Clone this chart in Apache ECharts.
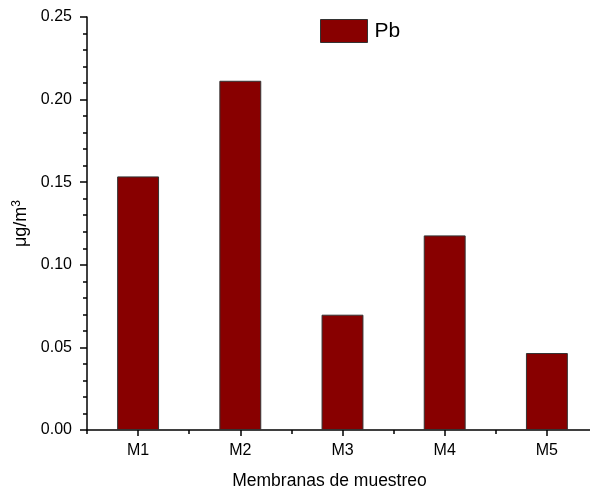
<!DOCTYPE html>
<html>
<head>
<meta charset="utf-8">
<script src="https://cdn.jsdelivr.net/npm/echarts@6/dist/echarts.min.js"></script>
<style>html,body{margin:0;padding:0;background:#fff}#c{width:590px;height:493px}</style>
</head>
<body>
<div id="c"></div>
<script>
const categories = ['M1', 'M2', 'M3', 'M4', 'M5'];
const pbValues = [0.1535, 0.2114, 0.0698, 0.1178, 0.0466];
const seriesName = 'Pb';
const xTitle = 'Membranas de muestreo';

const FONT = '"Liberation Sans", Arial, sans-serif';
const chart = echarts.init(document.getElementById('c'), null, {renderer: 'canvas'});
chart.setOption({
  animation: false,
  backgroundColor: '#ffffff',
  textStyle: {fontFamily: FONT},
  grid: {left: 87, top: 17, height: 413, width: 511, containLabel: false, outerBoundsMode: 'none'},
  legend: {
    data: [seriesName],
    left: 315, top: 14,
    icon: 'rect',
    itemWidth: 47, itemHeight: 23, itemGap: 6,
    itemStyle: {borderColor: '#333', borderWidth: 1},
    textStyle: {fontSize: 21, color: '#000', fontFamily: FONT, padding: [0, 0, 0, 2]}
  },
  xAxis: [{
    type: 'category',
    data: categories,
    position: 'bottom',
    name: xTitle,
    nameLocation: 'middle',
    nameGap: 42,
    nameTextStyle: {fontSize: 17.5, color: '#000', fontFamily: FONT, padding: [0, 26, 0, 0]},
    axisLine: {lineStyle: {color: '#000', width: 1.5}},
    axisTick: {show: true, alignWithLabel: true, length: 6, lineStyle: {color: '#000', width: 1.5}},
    axisLabel: {fontSize: 16, color: '#000', margin: 13, fontFamily: FONT},
    splitLine: {show: false}
  }, {
    type: 'category',
    data: categories,
    position: 'bottom',
    axisLine: {show: false},
    axisTick: {show: true, length: 4, lineStyle: {color: '#000', width: 1.5}},
    axisLabel: {show: false},
    splitLine: {show: false}
  }],
  yAxis: {
    type: 'value',
    min: 0, max: 0.25, interval: 0.05,
    name: '{a|μg/m}{s|3}',
    nameLocation: 'middle',
    nameRotate: 90,
    nameGap: 51,
    nameTextStyle: {
      rich: {
        a: {fontSize: 18, color: '#000', fontFamily: FONT},
        s: {fontSize: 12, color: '#000', fontFamily: FONT, verticalAlign: 'top', padding: [0, 0, 9, 0]}
      }
    },
    axisLine: {show: true, lineStyle: {color: '#000', width: 1.5}},
    axisTick: {show: true, length: 7, lineStyle: {color: '#000', width: 1.5}},
    minorTick: {show: true, splitNumber: 5, length: 4, lineStyle: {color: '#000', width: 1.5}},
    axisLabel: {fontSize: 16, color: '#000', margin: 15, fontFamily: FONT,
      formatter: v => v.toFixed(2)},
    splitLine: {show: false}
  },
  series: [{
    name: seriesName,
    type: 'bar',
    xAxisIndex: 0,
    data: pbValues,
    barWidth: '41%',
    itemStyle: {color: '#880000', borderColor: '#333', borderWidth: 1}
  }]
});
</script>
</body>
</html>
